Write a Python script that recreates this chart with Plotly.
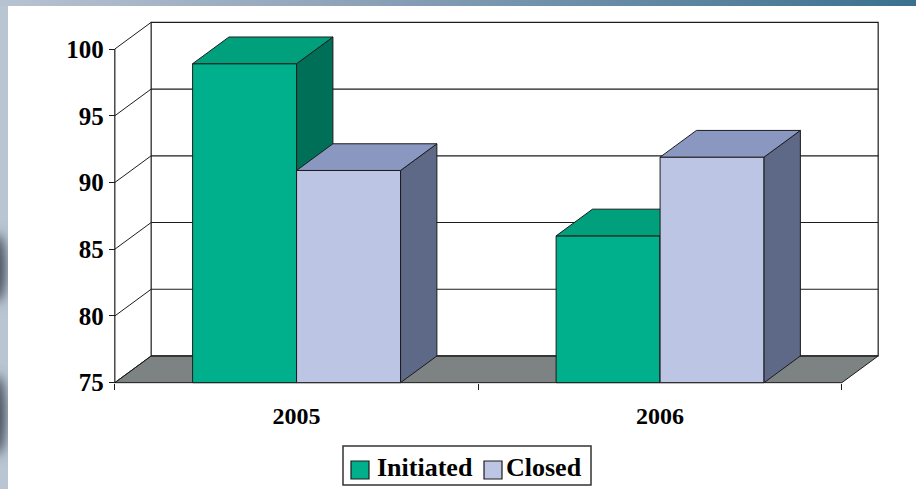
import base64
import plotly.graph_objects as go

# ---- data ----
years = ["2005", "2006"]
initiated = [98.9, 86.0]
closed = [90.9, 91.9]
y_ticks = [75, 80, 85, 90, 95, 100]
series_names = ["Initiated", "Closed"]

# ---- style / geometry ----
Y0, YTOP = 75, 100
DX, DY = 0.1, 2.0          # pseudo-3D depth offset in axis units
BW = 0.286                 # bar width (category units)
XR = [-0.505, 1.605]
YR = [74.9, 102.1]
FONT = "Liberation Serif, Times New Roman, Tinos, serif"
EDGE = "#1c1c1c"
col_init = dict(front="#00B08C", top="#00A07C", side="#006F57")
col_close = dict(front="#BCC5E4", top="#8A97C0", side="#5E6887")
FLOOR = "#7D8282"

L, R, T, B = 113, 36, 21, 105
W, H = 916, 489
pw, ph = W - L - R, H - T - B

def px_x(p):   # pixel -> paper x
    return (p - L) / pw

def px_y(p):   # pixel -> paper y
    return (H - B - p) / ph

xs = list(range(len(years)))

fig = go.Figure()

def faces(x0, x1, v, cols, xa, ya):
    top_x = [x0, x1, x1 + DX, x0 + DX, x0]
    top_y = [v, v, v + DY, v + DY, v]
    side_x = [x1, x1, x1 + DX, x1 + DX, x1]
    side_y = [Y0, v, v + DY, Y0 + DY, Y0]
    for px, py, c in ((side_x, side_y, cols["side"]), (top_x, top_y, cols["top"])):
        fig.add_trace(go.Scatter(x=px, y=py, fill="toself", fillcolor=c, mode="lines",
                                 line=dict(color=EDGE, width=1), hoverinfo="skip",
                                 showlegend=False, xaxis=xa, yaxis=ya))

# Initiated: base subplot ; Closed: overlaid subplot (drawn on top)
for vals, cols, off, xa, ya, name in ((initiated, col_init, -BW, "x", "y", series_names[0]),
                                      (closed, col_close, 0.0, "x2", "y2", series_names[1])):
    fig.add_trace(go.Bar(x=xs, y=[v - Y0 for v in vals], base=Y0, offset=off, width=BW,
                         marker=dict(color=cols["front"], line=dict(color=EDGE, width=1)),
                         name=name, showlegend=False, xaxis=xa, yaxis=ya,
                         hovertemplate=name + " %{x}: %{customdata}<extra></extra>",
                         customdata=vals))
    for xi, v in zip(xs, vals):
        faces(xi + off, xi + off + BW, v, cols, xa, ya)

# ---- walls, floor, grid ----
shapes = []
xl, xr = XR[0] + 0.005, 1.5
shapes.append(dict(type="path", xref="x", yref="y", layer="below",
                   path=f"M{xl},{Y0} L{xr},{Y0} L{xr+DX},{Y0+DY} L{xl+DX},{Y0+DY} Z",
                   fillcolor=FLOOR, line=dict(color=EDGE, width=1)))
shapes.append(dict(type="rect", xref="x", yref="y", layer="below",
                   x0=xl + DX, x1=xr + DX, y0=Y0 + DY, y1=YTOP + DY,
                   line=dict(color=EDGE, width=1.2), fillcolor="rgba(0,0,0,0)"))
for v in y_ticks:
    if Y0 < v < YTOP:
        shapes.append(dict(type="line", xref="x", yref="y", layer="below",
                           x0=xl + DX, x1=xr + DX, y0=v + DY, y1=v + DY,
                           line=dict(color=EDGE, width=1.2)))
    shapes.append(dict(type="line", xref="x", yref="y", layer="below",
                       x0=xl, x1=xl + DX, y0=v, y1=v + DY,
                       line=dict(color=EDGE, width=1)))
shapes.append(dict(type="line", xref="x", yref="y", layer="below",
                   x0=xl, x1=xl, y0=Y0, y1=YTOP, line=dict(color=EDGE, width=1.2)))

# ---- legend (boxed, bottom centre) ----
annotations = []
shapes.append(dict(type="rect", xref="paper", yref="paper",
                   x0=px_x(343), x1=px_x(591), y0=px_y(485), y1=px_y(446),
                   line=dict(color="#333333", width=1.5), fillcolor="white"))
legend_items = [(series_names[0], col_init["front"], 351, 425),
                (series_names[1], col_close["front"], 484, 544)]
for name, color, sq_left, text_cx in legend_items:
    shapes.append(dict(type="rect", xref="paper", yref="paper",
                       x0=px_x(sq_left), x1=px_x(sq_left + 18), y0=px_y(479), y1=px_y(461),
                       line=dict(color=EDGE, width=1.2), fillcolor=color))
    annotations.append(dict(text=name, xref="paper", yref="paper", x=px_x(text_cx),
                            y=px_y(467), xanchor="center", yanchor="middle", showarrow=False,
                            font=dict(family=FONT, size=26, color="black", weight="bold")))

# ---- background decoration (frame strips) ----
svg = """<svg xmlns='http://www.w3.org/2000/svg' width='916' height='489' viewBox='0 0 916 489' preserveAspectRatio='none'>
<defs>
<linearGradient id='t' x1='0' x2='1' y1='0' y2='0'>
<stop offset='0' stop-color='#B8C3D1'/><stop offset='0.33' stop-color='#94A7BD'/><stop offset='1' stop-color='#3B708F'/></linearGradient>
<filter id='b' x='-2' y='-1' width='5' height='3'><feGaussianBlur stdDeviation='6'/></filter>
<clipPath id='c'><rect x='0' y='0' width='8' height='489'/></clipPath>
</defs>
<rect x='0' y='0' width='8' height='489' fill='#B9C5D3'/>
<g clip-path='url(#c)'>
<ellipse cx='-3' cy='268' rx='9' ry='34' fill='#46505C' filter='url(#b)'/>
<ellipse cx='-3' cy='415' rx='9' ry='40' fill='#46505C' filter='url(#b)'/>
</g>
<rect x='0' y='0' width='916' height='6' fill='url(#t)'/>
</svg>"""
src = "data:image/svg+xml;base64," + base64.b64encode(svg.encode()).decode()

fig.update_layout(
    width=W, height=H,
    margin=dict(l=L, r=R, t=T, b=B, autoexpand=False),
    paper_bgcolor="white", plot_bgcolor="rgba(0,0,0,0)",
    barmode="overlay",
    shapes=shapes,
    annotations=annotations,
    images=[dict(source=src, xref="paper", yref="paper", x=-L / pw, y=(ph + T) / ph,
                 sizex=W / pw, sizey=H / ph, sizing="stretch", xanchor="left",
                 yanchor="top", layer="below")],
    xaxis=dict(range=XR, tickvals=xs, ticktext=years, ticks="", showgrid=False,
               zeroline=False, showline=False, anchor="free", position=0.1 / (YR[1] - YR[0]),
               automargin=False,
               tickfont=dict(family=FONT, size=24, color="black", weight="bold"),
               ticklabelstandoff=16,
               minor=dict(tickvals=[-0.5, 0.5, 1.5], ticks="outside", ticklen=6,
                          tickcolor=EDGE, tickwidth=1.2)),
    yaxis=dict(range=YR, tickvals=y_ticks, ticks="outside", ticklen=6, tickcolor=EDGE,
               tickwidth=1.2, showgrid=False, zeroline=False, showline=False,
               anchor="free", position=0.005 / (XR[1] - XR[0]), automargin=False,
               tickfont=dict(family=FONT, size=25, color="black", weight="bold")),
    xaxis2=dict(range=XR, overlaying="x", visible=False, anchor="y2"),
    yaxis2=dict(range=YR, overlaying="y", visible=False, anchor="x2"),
    showlegend=False,
)

fig.write_html("out.html", config={"displayModeBar": False},
               post_script="document.body.style.margin='0';")
